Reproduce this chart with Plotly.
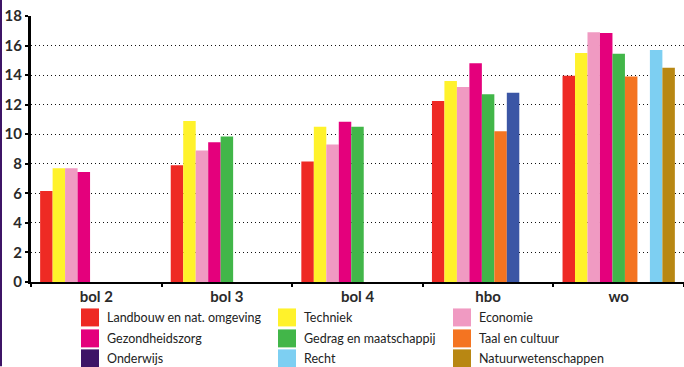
import plotly.graph_objects as go

# categories (x axis)
levels = ['bol 2', 'bol 3', 'bol 4', 'hbo', 'wo']

# one list per field of study, values per level (None = no bar)
landbouw = [6.15, 7.9, 8.15, 12.25, 13.95]
techniek = [7.7, 10.9, 10.5, 13.6, 15.5]
economie = [7.7, 8.9, 9.3, 13.2, 16.9]
gezondheidszorg = [7.45, 9.45, 10.85, 14.8, 16.85]
gedrag = [None, 9.85, 10.5, 12.7, 15.45]
taal = [None, None, None, 10.2, 13.9]
onderwijs = [None, None, None, 12.8, None]
recht = [None, None, None, None, 15.7]
natuur = [None, None, None, None, 14.5]

names = ['Landbouw en nat. omgeving', 'Techniek', 'Economie',
         'Gezondheidszorg', 'Gedrag en maatschappij', 'Taal en cultuur',
         'Onderwijs', 'Recht', 'Natuurwetenschappen']
series = [landbouw, techniek, economie, gezondheidszorg, gedrag, taal,
          onderwijs, recht, natuur]
colors = ['#EE2A24', '#FFF22B', '#F09AC2', '#E4007C', '#42B649', '#F47421',
          '#3B56A5', '#7DCFF2', '#B88713']
legend_colors = colors[:6] + ['#3E1466'] + colors[7:]

W, H = 684, 367
L, R, T, B = 31, 0, 16, 84.5
pw, ph = W - L - R, H - T - B


def px(x):
    return (x - L) / pw


def py(y):
    return (H - B - y) / ph


fig = go.Figure()
for name, vals, col in zip(names, series, colors):
    fig.add_trace(go.Bar(x=levels, y=vals, name=name, marker_color=col,
                         marker_line_width=0, showlegend=False))

font = 'Lato, Open Sans, sans-serif'

fig.update_layout(
    width=W, height=H,
    margin=dict(l=L, r=R, t=T, b=B),
    plot_bgcolor='white', paper_bgcolor='white',
    barmode='group', bargap=0.14, bargroupgap=0,
    font=dict(family=font, color='#2a2a2a'),
)
fig.update_yaxes(
    range=[0, 18], tickvals=list(range(0, 19, 2)),
    showgrid=True, gridcolor='#111', gridwidth=1, griddash='1px,3px',
    zeroline=False, showline=True, linecolor='black', linewidth=3,
    ticks='outside', ticklen=3, tickwidth=2, tickcolor='black',
    tickfont=dict(size=15, family=font, weight='bold', color='#2a2a2a'),
)
fig.update_xaxes(
    showline=True, linecolor='black', linewidth=2,
    ticks='outside', tickson='boundaries', ticklen=3, tickwidth=2,
    tickcolor='black', showgrid=False,
    tickfont=dict(size=15, family=font, weight='bold', color='#2a2a2a'),
)

# left purple border
fig.add_shape(type='rect', xref='paper', yref='paper',
              x0=px(0), x1=px(2), y0=py(H), y1=py(0),
              fillcolor='#3D1466', line_width=0, layer='above')

# manual legend, 3 columns
col_x = [81, 278, 453]
row_y = [318, 339, 359]
for i, (name, col) in enumerate(zip(names, legend_colors)):
    r, c = divmod(i, 3)
    x0 = col_x[c]
    yc = row_y[r]
    fig.add_shape(type='rect', xref='paper', yref='paper',
                  x0=px(x0), x1=px(x0 + 18), y0=py(yc + 9), y1=py(yc - 9),
                  fillcolor=col, line_width=0)
    fig.add_annotation(xref='paper', yref='paper', x=px(x0 + 24), y=py(yc),
                       text=name, showarrow=False, xanchor='left',
                       yanchor='middle',
                       font=dict(size=12.5, family=font, color='#222'))

fig.write_html('out.html', config={'displayModeBar': False},
               post_script="document.body.style.margin='0';")
